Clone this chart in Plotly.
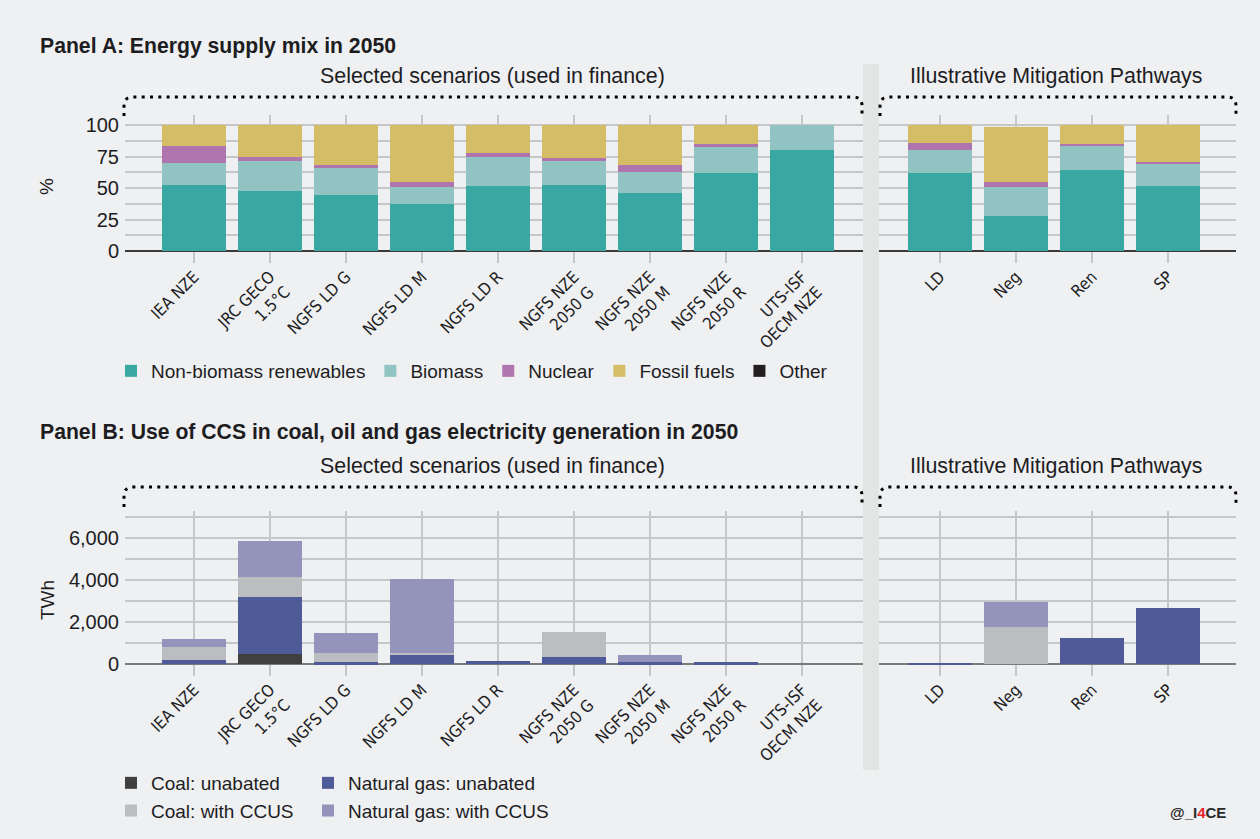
import plotly.graph_objects as go

W, H = 1260, 839
def fx(p): return p / W
def fy(p): return 1 - p / H

# ---------------- data ----------------
scenarios = ["IEA NZE", "JRC GECO<br>1.5°C", "NGFS LD G", "NGFS LD M", "NGFS LD R",
             "NGFS NZE<br>2050 G", "NGFS NZE<br>2050 M", "NGFS NZE<br>2050 R", "UTS-ISF<br>OECM NZE"]
imps = ["LD", "Neg", "Ren", "SP"]

# Panel A: energy supply mix (%)
renew_s   = [52.4, 47.6, 44.4, 37.3, 51.6, 52.4, 46.0, 61.9, 80.2]
biomass_s = [17.4, 23.8, 21.5, 13.5, 23.0, 19.0, 16.7, 20.6, 19.8]
nuclear_s = [13.5, 3.2, 2.4, 4.0, 3.2, 2.4, 5.6, 2.4, 0]
fossil_s  = [16.7, 25.4, 31.7, 45.2, 22.2, 26.2, 31.7, 15.1, 0]
other_s   = [0, 0, 0, 0, 0, 0, 0, 0, 0]

renew_i   = [61.9, 27.8, 64.3, 51.6]
biomass_i = [18.3, 23.0, 19.0, 17.4]
nuclear_i = [5.5, 4.0, 1.6, 1.6]
fossil_i  = [14.3, 43.6, 15.1, 29.4]
other_i   = [0, 0, 0, 0]

# Panel B: CCS use in electricity generation (TWh)
coal_unab_s = [0, 475, 0, 0, 0, 0, 0, 0, 0]
gas_unab_s  = [190, 2707, 95, 427, 142, 332, 80, 95, 0]
coal_ccus_s = [617, 950, 427, 95, 0, 1188, 0, 0, 0]
gas_ccus_s  = [380, 1709, 950, 3515, 0, 0, 348, 0, 0]

coal_unab_i = [0, 0, 0, 0]
gas_unab_i  = [45, 0, 1235, 2660]
coal_ccus_i = [0, 1757, 0, 0]
gas_ccus_i  = [0, 1188, 0, 0]

a_ticks = [0, 12.5, 25, 37.5, 50, 62.5, 75, 87.5, 100]
a_ticktext = ["0", "", "25", "", "50", "", "75", "", "100"]
b_ticks = [0, 1000, 2000, 3000, 4000, 5000, 6000, 7000]
b_ticktext = ["0", "", "2,000", "", "4,000", "", "6,000", ""]

# ---------------- styles ----------------
C_REN, C_BIO, C_NUC, C_FOS, C_OTH = "#3aa8a2", "#90c3c1", "#b074ae", "#d5bd66", "#231f20"
C_CU, C_CC, C_GU, C_GC = "#404040", "#bcbdc0", "#4e5b98", "#9393bc"
BG = "#eff0f2"
GRID = "#c6c7c9"
TXT = "#1d1d1f"
FONT = "Liberation Sans, Arial, sans-serif"
NARROW = "Liberation Sans Narrow, DejaVu Sans Condensed, sans-serif"

fig = go.Figure()

def add(x, y, name, color, xa, ya, show, legend="legend"):
    fig.add_trace(go.Bar(x=x, y=y, name=name, marker=dict(color=color, line=dict(width=0)),
                         xaxis=xa, yaxis=ya, showlegend=show, legend=legend,
                         hoverinfo="x+y+name"))

# Panel A
for vals_s, vals_i, name, col in [
    (renew_s, renew_i, "Non-biomass renewables", C_REN),
    (biomass_s, biomass_i, "Biomass", C_BIO),
    (nuclear_s, nuclear_i, "Nuclear", C_NUC),
    (fossil_s, fossil_i, "Fossil fuels", C_FOS),
    (other_s, other_i, "Other", C_OTH),
]:
    add(scenarios, vals_s, name, col, "x", "y", True, "legend")
    add(imps, vals_i, name, col, "x2", "y2", False, "legend")

# Panel B
for vals_s, vals_i, name, col, lg in [
    (coal_unab_s, coal_unab_i, "Coal: unabated", C_CU, "legend2"),
    (gas_unab_s, gas_unab_i, "Natural gas: unabated", C_GU, "legend3"),
    (coal_ccus_s, coal_ccus_i, "Coal: with CCUS", C_CC, "legend2"),
    (gas_ccus_s, gas_ccus_i, "Natural gas: with CCUS", C_GC, "legend3"),
]:
    add(scenarios, vals_s, name, col, "x3", "y3", True, lg)
    add(imps, vals_i, name, col, "x4", "y4", False, lg)

xcommon = dict(showgrid=True, gridcolor=GRID, gridwidth=1.5, ticks="", showline=False,
               zeroline=False, tickangle=-45, tickfont=dict(family=NARROW, size=16.5, color=TXT),
               fixedrange=True, automargin=False)
ycommon = dict(showgrid=True, gridcolor=GRID, gridwidth=2, ticks="", showline=False,
               tickfont=dict(family=FONT, size=20, color=TXT), fixedrange=True, automargin=False,
               tickmode="array", ticklabelstandoff=5)

A_dom = [fy(263), fy(115)]
B_dom = [fy(676), fy(510.8)]
L_dom = [fx(125), fx(863)]
R_dom = [fx(879), fx(1236)]
L_rng = [-0.908, 8.803]
R_rng = [-0.803, 3.895]

LEGFONT = dict(family=FONT, size=19, color=TXT)
fig.update_layout(
    width=W, height=H,
    margin=dict(l=0, r=0, t=0, b=0),
    paper_bgcolor=BG, plot_bgcolor=BG,
    font=dict(family=FONT, color=TXT),
    barmode="stack", bargap=0.16,
    xaxis=dict(domain=L_dom, anchor="y", range=L_rng, **xcommon),
    xaxis2=dict(domain=R_dom, anchor="y2", range=R_rng, **xcommon),
    xaxis3=dict(domain=L_dom, anchor="y3", range=L_rng, **xcommon),
    xaxis4=dict(domain=R_dom, anchor="y4", range=R_rng, **xcommon),
    yaxis=dict(domain=A_dom, anchor="x", range=[-9.5, 108], tickvals=a_ticks, ticktext=a_ticktext,
               zeroline=True, zerolinecolor="#3a3a3a", zerolinewidth=2, **ycommon),
    yaxis2=dict(domain=A_dom, anchor="x2", range=[-9.5, 108], tickvals=a_ticks, showticklabels=False,
                zeroline=True, zerolinecolor="#3a3a3a", zerolinewidth=2, **ycommon),
    yaxis3=dict(domain=B_dom, anchor="x3", range=[-570, 7280], tickvals=b_ticks, ticktext=b_ticktext,
                zeroline=True, zerolinecolor="#7a7a7a", zerolinewidth=2, **ycommon),
    yaxis4=dict(domain=B_dom, anchor="x4", range=[-570, 7280], tickvals=b_ticks, showticklabels=False,
                zeroline=True, zerolinecolor="#7a7a7a", zerolinewidth=2, **ycommon),
    legend=dict(orientation="h", x=fx(111), y=fy(352), xanchor="left", yanchor="top",
                font=LEGFONT, bgcolor="rgba(0,0,0,0)", entrywidthmode="pixels",
                traceorder="normal", itemclick=False, itemdoubleclick=False),
    legend2=dict(orientation="v", x=fx(111), y=fy(764), xanchor="left", yanchor="top",
                 font=LEGFONT, bgcolor="rgba(0,0,0,0)",
                 traceorder="normal", tracegroupgap=0, itemclick=False, itemdoubleclick=False),
    legend3=dict(orientation="v", x=fx(308), y=fy(764), xanchor="left", yanchor="top",
                 font=LEGFONT, bgcolor="rgba(0,0,0,0)",
                 traceorder="normal", tracegroupgap=0, itemclick=False, itemdoubleclick=False),
)

shapes = []
# separator band
shapes.append(dict(type="rect", xref="paper", yref="paper", x0=fx(863), x1=fx(879),
                   y0=fy(770), y1=fy(64), fillcolor="#e1e6e5", line=dict(width=0), layer="below"))

def brace(x0, x1, ytop, ybot):
    r = 9
    path = (f"M {fx(x0)},{fy(ybot)} L {fx(x0)},{fy(ytop + r)} Q {fx(x0)},{fy(ytop)} {fx(x0 + r)},{fy(ytop)} "
            f"L {fx(x1 - r)},{fy(ytop)} Q {fx(x1)},{fy(ytop)} {fx(x1)},{fy(ytop + r)} L {fx(x1)},{fy(ybot)}")
    return dict(type="path", xref="paper", yref="paper", path=path,
                line=dict(color="#000000", width=3, dash="3px,5.3px"))

shapes += [brace(124, 862, 97, 116), brace(880, 1236, 97, 116),
           brace(124, 862, 487, 507), brace(880, 1236, 487, 507)]
fig.update_layout(shapes=shapes)

ann = []
def text(x, y, s, size=17, anchor="left", bold=False, angle=0):
    ann.append(dict(xref="paper", yref="paper", x=fx(x), y=fy(y), text=(f"<b>{s}</b>" if bold else s),
                    showarrow=False, xanchor=anchor, yanchor="middle", textangle=angle,
                    font=dict(family=FONT, size=size, color=TXT)))

text(38, 46, "Panel A: Energy supply mix in 2050", size=21.2, bold=True)
text(492, 76, "Selected scenarios (used in finance)", size=21.4, anchor="center")
text(1056, 76, "Illustrative Mitigation Pathways", size=21.4, anchor="center")
text(47, 187, "%", size=19, anchor="center", angle=-90)
text(38, 432, "Panel B: Use of CCS in coal, oil and gas electricity generation in 2050", size=21.2, bold=True)
text(492, 466, "Selected scenarios (used in finance)", size=21.4, anchor="center")
text(1056, 466, "Illustrative Mitigation Pathways", size=21.4, anchor="center")
text(47, 600, "TWh", size=19, anchor="center", angle=-90)
ann.append(dict(xref="paper", yref="paper", x=fx(1228), y=fy(812), xanchor="right", yanchor="middle",
                showarrow=False, text="<b>@_I<span style='color:#e8232a'>4</span>CE</b>",
                font=dict(family=FONT, size=15, color="#2a2a2a")))
fig.update_layout(annotations=ann)

fig.write_html("out.html", config={"displayModeBar": False},
               post_script="document.body.style.margin='0px';")
